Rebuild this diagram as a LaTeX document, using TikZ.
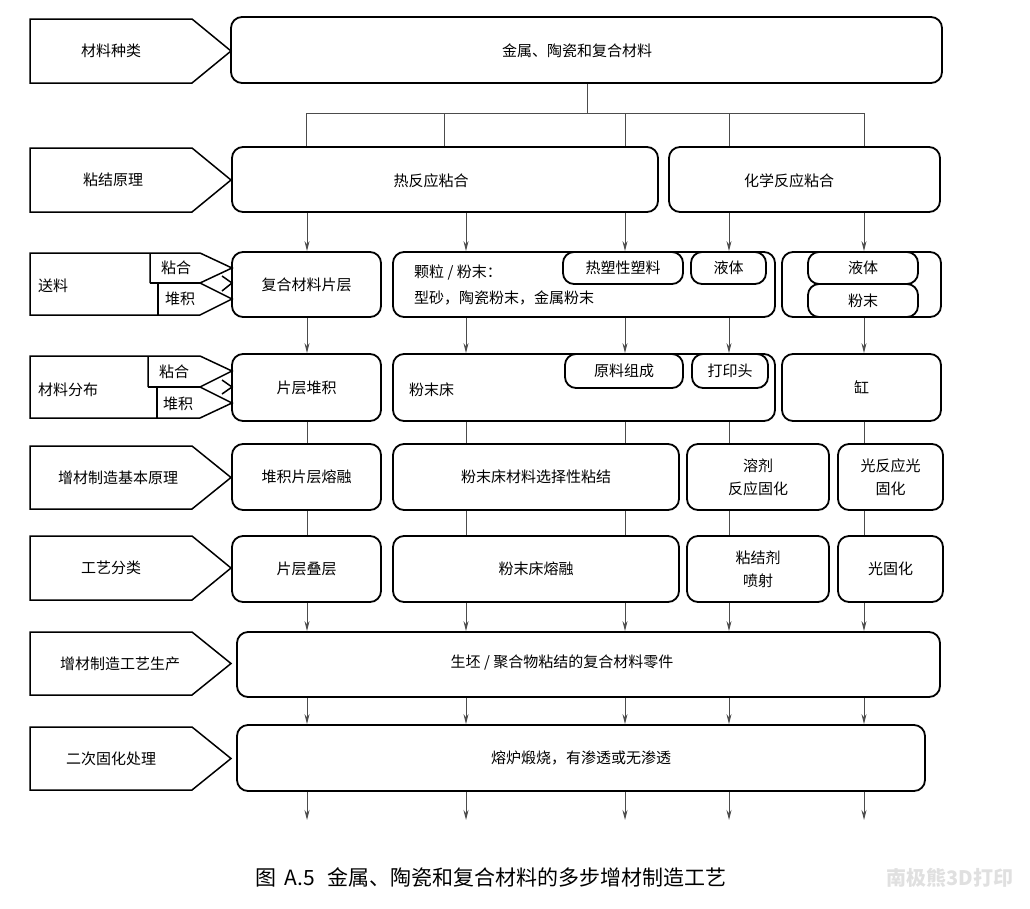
\documentclass[tikz,border=0pt]{standalone}
\usepackage{fontspec}
\setmainfont{Noto Sans CJK SC}
\usetikzlibrary{arrows.meta}
\tikzset{
  box/.style={draw, line width=1.8pt, rounded corners=11pt, align=center, inner sep=2pt,
    font=\fontsize{15}{23}\selectfont},
  txt/.style={font=\fontsize{15}{23}\selectfont, inner sep=0pt},
  pent/.style={draw, line width=1.5pt, line join=miter},
  conn/.style={draw=black!70, line width=1pt},
  arr/.style={conn, -{Stealth[length=10pt,width=5pt]}},
}
\newcommand{\bx}[6]{\node[box, minimum width={(#4-#2)*1pt}, minimum height={(#5-#3)*1pt}]
  (#1) at ({(#2+#4)/2},{(#3+#5)/2}) {#6};}
\newcommand{\lab}[5]{%
  \draw[pent] (30,#2) -- (192,#2) -- (231,{(#2+#3)/2}) -- (192,#3) -- (30,#3) -- cycle;
  \node[txt] (#1) at (#4,{(#2+#3)/2}) {#5};}
\begin{document}
\begin{tikzpicture}[x=1pt,y=-1pt]
\useasboundingbox (0,0) rectangle (1030,908);
% columns
\coordinate (c1) at (307,0);
\coordinate (c2) at (466,0);
\coordinate (c3) at (625,0);
\coordinate (c4) at (729,0);
\coordinate (c5) at (864,0);
\coordinate (b1) at (306,113);
\coordinate (b2) at (444,113);
\coordinate (b5) at (864,113);

% left labels
\lab{l1}{19}{83}{111}{材料种类}
\lab{l2}{148}{212}{113}{粘结原理}
\lab{l5}{446}{509}{118}{增材制造基本原理}
\lab{l6}{536}{600}{111}{工艺分类}
\lab{l7}{632}{695}{120}{增材制造工艺生产}
\lab{l8}{727}{790}{111}{二次固化处理}

% row 3 composite label
\draw[pent] (150,283) -- (150,253) -- (30,253) -- (30,315) -- (200,315) -- (232,299) -- (200,283) -- (232,268) -- (200,253) -- (150,253);
\draw[pent] (150,283) -- (200,283);
\draw[pent] (158,283) -- (158,315);
\draw[pent] (222,276) -- (232,283) -- (222,291);
\node[txt, anchor=west] (l3) at (38,286) {送料};
\node[txt] (l3a) at (176,268) {粘合};
\node[txt] (l3b) at (180,299) {堆积};

% row 4 composite label
\draw[pent] (148,387) -- (148,356) -- (30,356) -- (30,418) -- (200,418) -- (232,403) -- (200,387) -- (232,371) -- (200,356) -- (148,356);
\draw[pent] (148,387) -- (200,387);
\draw[pent] (157,387) -- (157,418);
\draw[pent] (222,380) -- (232,387) -- (222,394);
\node[txt, anchor=west] (l4) at (38,390) {材料分布};
\node[txt] (l4a) at (174,372) {粘合};
\node[txt] (l4b) at (178,404) {堆积};

% row 1
\bx{top}{231}{17}{942}{83}{}
\node[txt] (topt) at (577,51) {金属、陶瓷和复合材料};
% row 2
\bx{therm}{232}{147}{658}{212}{}
\node[txt] (thermt) at (431,181) {热反应粘合};
\bx{chem}{669}{147}{940}{212}{}
\node[txt] (chemt) at (789,181) {化学反应粘合};
% row 3
\bx{comp}{232}{252}{381}{317}{复合材料片层}
\bx{grain}{393}{252}{775}{317}{}
\bx{thermo}{563}{252}{683}{284}{热塑性塑料}
\bx{liqa}{691}{252}{766}{284}{液体}
\bx{grpr}{782}{252}{941}{317}{}
\bx{liqb}{808}{252}{918}{284}{液体}
\bx{powd}{808}{284}{918}{317}{粉末}
\node[txt, anchor=west] (g1) at (414,273) {颗粒 / 粉末：};
\node[txt, anchor=west] (g2) at (414,298) {型砂，陶瓷粉末，金属粉末};
% row 4
\bx{layer}{232}{354}{381}{421}{片层堆积}
\bx{bed}{393}{354}{775}{421}{}
\bx{raw}{565}{354}{683}{388}{原料组成}
\bx{head}{692}{354}{768}{388}{打印头}
\bx{vat}{782}{354}{941}{421}{缸}
\node[txt, anchor=west] (bedt) at (409,390) {粉末床};
% row 5
\bx{pa}{232}{444}{381}{510}{堆积片层熔融}
\bx{pb}{393}{444}{679}{510}{粉末床材料选择性粘结}
\bx{pc}{687}{444}{829}{510}{溶剂\\反应固化}
\bx{pd}{838}{444}{943}{510}{光反应光\\固化}
% row 6
\bx{qa}{232}{536}{381}{602}{片层叠层}
\bx{qb}{393}{536}{679}{602}{粉末床熔融}
\bx{qc}{687}{536}{829}{602}{粘结剂\\喷射}
\bx{qd}{838}{536}{943}{602}{光固化}
% row 7, 8
\bx{prod}{237}{632}{940}{697}{}
\node[txt] (prodt) at (562,663) {生坯 / 聚合物粘结的复合材料零件};
\bx{sint}{237}{725}{925}{791}{熔炉煅烧，有渗透或无渗透}

% branch from top
\draw[conn] (top.south -| 587,0) -- (587,113);
\draw[conn] (b1) -- (b5);
\draw[conn] (b1) -- (b1 |- therm.north);
\draw[conn] (b2) -- (b2 |- therm.north);
\draw[conn] (c3 |- b1) -- (c3 |- therm.north);
\draw[conn] (c4 |- b1) -- (c4 |- chem.north);
\draw[conn] (b5) -- (b5 |- chem.north);

% row 2 -> row 3
\draw[arr] (c1 |- therm.south) -- (c1 |- comp.north);
\draw[arr] (c2 |- therm.south) -- (c2 |- grain.north);
\draw[arr] (c3 |- therm.south) -- (c3 |- thermo.north);
\draw[arr] (c4 |- chem.south) -- (c4 |- liqa.north);
\draw[arr] (c5 |- chem.south) -- (c5 |- liqb.north);
% row 3 -> row 4
\draw[arr] (c1 |- comp.south) -- (c1 |- layer.north);
\draw[arr] (c2 |- grain.south) -- (c2 |- bed.north);
\draw[arr] (c3 |- grain.south) -- (c3 |- raw.north);
\draw[arr] (c4 |- grain.south) -- (c4 |- head.north);
\draw[arr] (c5 |- powd.south) -- (c5 |- vat.north);
% row 4 -> row 5
\draw[conn] (c1 |- layer.south) -- (c1 |- pa.north);
\draw[conn] (c2 |- bed.south) -- (c2 |- pb.north);
\draw[conn] (c3 |- bed.south) -- (c3 |- pb.north);
\draw[conn] (c4 |- bed.south) -- (c4 |- pc.north);
\draw[conn] (c5 |- vat.south) -- (c5 |- pd.north);
% row 5 -> row 6
\draw[conn] (c1 |- pa.south) -- (c1 |- qa.north);
\draw[conn] (c2 |- pb.south) -- (c2 |- qb.north);
\draw[conn] (c3 |- pb.south) -- (c3 |- qb.north);
\draw[conn] (c4 |- pc.south) -- (c4 |- qc.north);
\draw[conn] (c5 |- pd.south) -- (c5 |- qd.north);
% row 6 -> row 7
\draw[arr] (c1 |- qa.south) -- (c1 |- prod.north);
\draw[arr] (c2 |- qb.south) -- (c2 |- prod.north);
\draw[arr] (c3 |- qb.south) -- (c3 |- prod.north);
\draw[arr] (c4 |- qc.south) -- (c4 |- prod.north);
\draw[arr] (c5 |- qd.south) -- (c5 |- prod.north);
% row 7 -> row 8
\draw[arr] (c1 |- prod.south) -- (c1 |- sint.north);
\draw[arr] (c2 |- prod.south) -- (c2 |- sint.north);
\draw[arr] (c3 |- prod.south) -- (c3 |- sint.north);
\draw[arr] (c4 |- prod.south) -- (c4 |- sint.north);
\draw[arr] (c5 |- prod.south) -- (c5 |- sint.north);
% row 8 -> out
\coordinate (out) at (0,820);
\draw[arr] (c1 |- sint.south) -- (c1 |- out);
\draw[arr] (c2 |- sint.south) -- (c2 |- out);
\draw[arr] (c3 |- sint.south) -- (c3 |- out);
\draw[arr] (c4 |- sint.south) -- (c4 |- out);
\draw[arr] (c5 |- sint.south) -- (c5 |- out);

% caption
\node[font=\fontsize{21}{24}\selectfont, inner sep=0pt] (cap) at (491,877) {图\hspace{0.4em}A.5\hspace{0.6em}金属、陶瓷和复合材料的多步增材制造工艺};
\node[font=\fontsize{20}{24}\bfseries\selectfont, text=black!12, inner sep=0pt] (wm) at (950,878) {南极熊3D打印};
\end{tikzpicture}
\end{document}
